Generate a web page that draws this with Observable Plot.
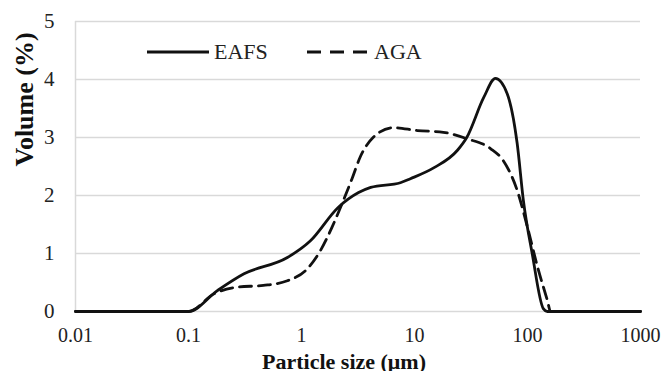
<!DOCTYPE html>
<html><head><meta charset="utf-8">
<script src="https://cdn.jsdelivr.net/npm/d3@7"></script>
<script src="https://cdn.jsdelivr.net/npm/@observablehq/plot@0.6"></script>
<style>body{margin:0;background:#fff}</style>
</head><body><div id="chart"></div>
<script>
const eafsX = [0.01, 0.1, 0.18, 0.31, 0.75, 1.2, 2.1, 3.2, 4.1, 7.5, 9.2, 14.9, 24, 29, 41, 52, 66, 81, 92, 110, 138, 150, 1000];
const eafsY = [0, 0, 0.36, 0.65, 0.93, 1.22, 1.79, 2.05, 2.14, 2.22, 2.29, 2.48, 2.78, 3.0, 3.69, 4.02, 3.76, 2.9, 1.91, 1.0, 0.05, 0, 0];
const agaX = [0.01, 0.1, 0.17, 0.27, 0.46, 0.75, 1.13, 1.47, 1.86, 2.34, 2.8, 3.3, 4.3, 6.5, 10.6, 18, 29, 47, 61, 81, 100, 123, 150, 160, 1000];
const agaY = [0, 0, 0.31, 0.42, 0.45, 0.53, 0.74, 1.05, 1.45, 1.91, 2.29, 2.66, 3.0, 3.17, 3.12, 3.09, 2.98, 2.81, 2.6, 2.09, 1.45, 0.76, 0.19, 0, 0];
const xTicks = [0.01, 0.1, 1, 10, 100, 1000];
const yTicks = [0, 1, 2, 3, 4, 5];
const seriesNames = ["EAFS", "AGA"];
const xTitle = "Particle size (μm)";
const yTitle = "Volume (%)";

const eafs = eafsX.map((x, i) => ({x, y: eafsY[i]}));
const aga = agaX.map((x, i) => ({x, y: agaY[i]}));
const font = "Liberation Serif";

const plot = Plot.plot({
  width: 667, height: 371,
  marginLeft: 75, marginRight: 27, marginTop: 21, marginBottom: 60,
  style: "font-family: 'Liberation Serif'; font-size: 21px; color: #222; background: #fff;",
  x: {type: "log", domain: [0.01, 1000]},
  y: {domain: [0, 5]},
  marks: [
    Plot.gridY(yTicks, {stroke: "#d9d9d9", strokeOpacity: 1, strokeWidth: 1.5}),
    Plot.ruleX([0.01], {stroke: "#d9d9d9", strokeWidth: 1.5}),
    Plot.axisX(xTicks, {tickSize: 0, tickPadding: 16, tickFormat: d => String(d), label: null, fontSize: 20}),
    Plot.axisY(yTicks, {tickSize: 0, tickPadding: 21, tickFormat: d => String(d), label: null, fontSize: 21}),
    Plot.line(aga, {x: "x", y: "y", curve: "monotone-x", stroke: "#111", strokeWidth: 2.8, strokeDasharray: "12,7"}),
    Plot.line(eafs, {x: "x", y: "y", curve: "monotone-x", stroke: "#111", strokeWidth: 2.8}),
    Plot.text([xTitle], {frameAnchor: "bottom", dy: 57, dx: -14, fontWeight: "bold", fontSize: 22, fill: "#111"}),
    Plot.text([yTitle], {frameAnchor: "left", dx: -51, dy: 0, rotate: -90, fontWeight: "bold", fontSize: 26, fill: "#111"})
  ]
});

// legend inside the plot area
const svg = d3.select(plot);
const lg = svg.append("g").attr("font-size", 22).attr("fill", "#222").attr("text-anchor", "start");
const items = [
  {name: seriesNames[0], x1: 147, x2: 209, dash: null},
  {name: seriesNames[1], x1: 307, x2: 369, dash: "14,9"}
];
items.forEach(it => {
  lg.append("line").attr("x1", it.x1).attr("x2", it.x2).attr("y1", 52).attr("y2", 52)
    .attr("stroke", "#111").attr("stroke-width", 2.8).attr("stroke-dasharray", it.dash);
  lg.append("text").attr("x", it.x2 + 5).attr("y", 59).attr("text-anchor", "start").text(it.name);
});
svg.selectAll("text").attr("font-family", font).style("font-family", font);
svg.attr("font-family", font).style("font-family", font);
document.getElementById("chart").appendChild(plot);
</script>
</body></html>
